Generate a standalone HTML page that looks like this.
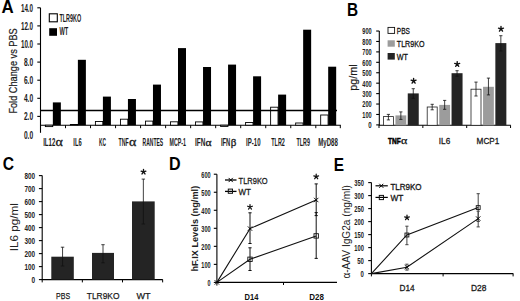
<!DOCTYPE html>
<html><head><meta charset="utf-8"><style>
html,body{margin:0;padding:0;background:#fff;}
svg{display:block;font-family:"Liberation Sans", sans-serif;}
</style></head><body>
<svg width="520" height="301" viewBox="0 0 520 301" font-family='"Liberation Sans", sans-serif'>
<rect x="0" y="0" width="520" height="301" fill="#fff"/>
<text x="1.60" y="12.60" font-size="17.5" font-weight="bold" fill="#000" textLength="12.20" lengthAdjust="spacingAndGlyphs">A</text>
<line x1="40.50" y1="7.80" x2="40.50" y2="132.80" stroke="#000" stroke-width="1.1"/>
<line x1="37.30" y1="7.80" x2="40.50" y2="7.80" stroke="#000" stroke-width="1.1"/>
<line x1="37.30" y1="25.90" x2="40.50" y2="25.90" stroke="#000" stroke-width="1.1"/>
<line x1="37.30" y1="44.00" x2="40.50" y2="44.00" stroke="#000" stroke-width="1.1"/>
<line x1="37.30" y1="62.10" x2="40.50" y2="62.10" stroke="#000" stroke-width="1.1"/>
<line x1="37.30" y1="80.20" x2="40.50" y2="80.20" stroke="#000" stroke-width="1.1"/>
<line x1="37.30" y1="98.30" x2="40.50" y2="98.30" stroke="#000" stroke-width="1.1"/>
<line x1="37.30" y1="116.40" x2="40.50" y2="116.40" stroke="#000" stroke-width="1.1"/>
<text x="20.90" y="11.70" font-size="11" font-weight="bold" fill="#1a1a1a" textLength="12.20" lengthAdjust="spacingAndGlyphs">14.0</text>
<text x="20.90" y="29.80" font-size="11" font-weight="bold" fill="#1a1a1a" textLength="12.20" lengthAdjust="spacingAndGlyphs">12.0</text>
<text x="20.90" y="47.90" font-size="11" font-weight="bold" fill="#1a1a1a" textLength="12.20" lengthAdjust="spacingAndGlyphs">10.0</text>
<text x="23.90" y="66.00" font-size="11" font-weight="bold" fill="#1a1a1a" textLength="9.20" lengthAdjust="spacingAndGlyphs">8.0</text>
<text x="23.90" y="84.10" font-size="11" font-weight="bold" fill="#1a1a1a" textLength="9.20" lengthAdjust="spacingAndGlyphs">6.0</text>
<text x="23.90" y="102.20" font-size="11" font-weight="bold" fill="#1a1a1a" textLength="9.20" lengthAdjust="spacingAndGlyphs">4.0</text>
<text x="23.90" y="120.30" font-size="11" font-weight="bold" fill="#1a1a1a" textLength="9.20" lengthAdjust="spacingAndGlyphs">2.0</text>
<text x="23.90" y="138.80" font-size="11" font-weight="bold" fill="#1a1a1a" textLength="9.20" lengthAdjust="spacingAndGlyphs">0.0</text>
<line x1="40.00" y1="125.20" x2="340.80" y2="125.20" stroke="#000" stroke-width="1.1"/>
<line x1="340.30" y1="125.20" x2="340.30" y2="128.20" stroke="#000" stroke-width="1"/>
<line x1="65.50" y1="125.20" x2="65.50" y2="128.20" stroke="#000" stroke-width="1"/>
<line x1="90.53" y1="125.20" x2="90.53" y2="128.20" stroke="#000" stroke-width="1"/>
<line x1="115.56" y1="125.20" x2="115.56" y2="128.20" stroke="#000" stroke-width="1"/>
<line x1="140.59" y1="125.20" x2="140.59" y2="128.20" stroke="#000" stroke-width="1"/>
<line x1="165.62" y1="125.20" x2="165.62" y2="128.20" stroke="#000" stroke-width="1"/>
<line x1="190.65" y1="125.20" x2="190.65" y2="128.20" stroke="#000" stroke-width="1"/>
<line x1="215.68" y1="125.20" x2="215.68" y2="128.20" stroke="#000" stroke-width="1"/>
<line x1="240.71" y1="125.20" x2="240.71" y2="128.20" stroke="#000" stroke-width="1"/>
<line x1="265.74" y1="125.20" x2="265.74" y2="128.20" stroke="#000" stroke-width="1"/>
<line x1="290.77" y1="125.20" x2="290.77" y2="128.20" stroke="#000" stroke-width="1"/>
<line x1="315.80" y1="125.20" x2="315.80" y2="128.20" stroke="#000" stroke-width="1"/>
<rect x="45.35" y="125.20" width="7.40" height="1.40" fill="#fff" stroke="#000" stroke-width="0.9"/>
<rect x="52.85" y="102.40" width="8.00" height="22.80" fill="#000"/>
<rect x="70.38" y="124.50" width="7.40" height="0.70" fill="#fff" stroke="#000" stroke-width="0.9"/>
<rect x="77.88" y="59.80" width="8.00" height="65.40" fill="#000"/>
<rect x="95.41" y="121.50" width="7.40" height="3.70" fill="#fff" stroke="#000" stroke-width="0.9"/>
<rect x="102.91" y="96.60" width="8.00" height="28.60" fill="#000"/>
<rect x="120.44" y="119.20" width="7.40" height="6.00" fill="#fff" stroke="#000" stroke-width="0.9"/>
<rect x="127.94" y="99.00" width="8.00" height="26.20" fill="#000"/>
<rect x="145.47" y="121.10" width="7.40" height="4.10" fill="#fff" stroke="#000" stroke-width="0.9"/>
<rect x="152.97" y="84.60" width="8.00" height="40.60" fill="#000"/>
<rect x="170.50" y="121.80" width="7.40" height="3.40" fill="#fff" stroke="#000" stroke-width="0.9"/>
<rect x="178.00" y="48.10" width="8.00" height="77.10" fill="#000"/>
<rect x="195.53" y="121.90" width="7.40" height="3.30" fill="#fff" stroke="#000" stroke-width="0.9"/>
<rect x="203.03" y="67.00" width="8.00" height="58.20" fill="#000"/>
<rect x="220.56" y="125.20" width="7.40" height="1.20" fill="#fff" stroke="#000" stroke-width="0.9"/>
<rect x="228.06" y="64.60" width="8.00" height="60.60" fill="#000"/>
<rect x="245.59" y="122.50" width="7.40" height="2.70" fill="#fff" stroke="#000" stroke-width="0.9"/>
<rect x="253.09" y="76.30" width="8.00" height="48.90" fill="#000"/>
<rect x="270.62" y="107.20" width="7.40" height="18.00" fill="#fff" stroke="#000" stroke-width="0.9"/>
<rect x="278.12" y="94.60" width="8.00" height="30.60" fill="#000"/>
<rect x="295.65" y="123.00" width="7.40" height="2.20" fill="#fff" stroke="#000" stroke-width="0.9"/>
<rect x="303.15" y="29.70" width="8.00" height="95.50" fill="#000"/>
<rect x="320.68" y="115.00" width="7.40" height="10.20" fill="#fff" stroke="#000" stroke-width="0.9"/>
<rect x="328.18" y="66.70" width="8.00" height="58.50" fill="#000"/>
<line x1="40.50" y1="110.45" x2="337.00" y2="110.45" stroke="#000" stroke-width="1.5"/>
<text x="43.20" y="145.60" font-size="11" font-weight="bold" fill="#1a1a1a" textLength="12.10" lengthAdjust="spacingAndGlyphs">IL12</text>
<text x="73.30" y="145.60" font-size="11" font-weight="bold" fill="#1a1a1a" textLength="8.40" lengthAdjust="spacingAndGlyphs">IL6</text>
<text x="99.00" y="145.60" font-size="11" font-weight="bold" fill="#1a1a1a" textLength="7.00" lengthAdjust="spacingAndGlyphs">KC</text>
<text x="118.50" y="145.60" font-size="11" font-weight="bold" fill="#1a1a1a" textLength="10.10" lengthAdjust="spacingAndGlyphs">TNF</text>
<text x="142.60" y="145.60" font-size="11" font-weight="bold" fill="#1a1a1a" textLength="20.60" lengthAdjust="spacingAndGlyphs">RANTES</text>
<text x="169.50" y="145.60" font-size="11" font-weight="bold" fill="#1a1a1a" textLength="16.40" lengthAdjust="spacingAndGlyphs">MCP-1</text>
<text x="195.00" y="145.60" font-size="11" font-weight="bold" fill="#1a1a1a" textLength="10.30" lengthAdjust="spacingAndGlyphs">IFN</text>
<text x="220.90" y="145.60" font-size="11" font-weight="bold" fill="#1a1a1a" textLength="9.40" lengthAdjust="spacingAndGlyphs">IFN</text>
<text x="246.10" y="145.60" font-size="11" font-weight="bold" fill="#1a1a1a" textLength="14.40" lengthAdjust="spacingAndGlyphs">IP-10</text>
<text x="271.30" y="145.60" font-size="11" font-weight="bold" fill="#1a1a1a" textLength="13.60" lengthAdjust="spacingAndGlyphs">TLR2</text>
<text x="296.50" y="145.60" font-size="11" font-weight="bold" fill="#1a1a1a" textLength="13.40" lengthAdjust="spacingAndGlyphs">TLR9</text>
<text x="318.20" y="145.60" font-size="11" font-weight="bold" fill="#1a1a1a" textLength="19.60" lengthAdjust="spacingAndGlyphs">MyD88</text>
<text x="55.50" y="146.00" font-family="Liberation Serif, serif" font-size="11.5" fill="#1a1a1a" stroke="#1a1a1a" stroke-width="0.3" textLength="7.30" lengthAdjust="spacingAndGlyphs">&#945;</text>
<text x="128.90" y="146.00" font-family="Liberation Serif, serif" font-size="11.5" fill="#1a1a1a" stroke="#1a1a1a" stroke-width="0.3" textLength="7.30" lengthAdjust="spacingAndGlyphs">&#945;</text>
<text x="205.60" y="145.90" font-family="Liberation Serif, serif" font-size="9.5" fill="#1a1a1a" stroke="#1a1a1a" stroke-width="0.3" textLength="6.00" lengthAdjust="spacingAndGlyphs">&#945;</text>
<text x="230.70" y="145.80" font-family="Liberation Serif, serif" font-size="10.5" fill="#1a1a1a" stroke="#1a1a1a" stroke-width="0.3" textLength="5.60" lengthAdjust="spacingAndGlyphs">&#946;</text>
<text transform="translate(17.10,113.60) rotate(-90)" x="0" y="0" font-size="10.3" font-weight="normal" fill="#1a1a1a" textLength="85.30" lengthAdjust="spacingAndGlyphs" stroke="#1a1a1a" stroke-width="0.2">Fold Change vs PBS</text>
<rect x="49.30" y="13.80" width="8.00" height="8.00" fill="#fff" stroke="#000" stroke-width="1.1"/>
<text x="59.40" y="21.80" font-size="10" font-weight="bold" fill="#1a1a1a" textLength="21.80" lengthAdjust="spacingAndGlyphs">TLR9KO</text>
<rect x="49.20" y="28.20" width="7.80" height="7.60" fill="#000"/>
<text x="59.40" y="35.40" font-size="10" font-weight="bold" fill="#1a1a1a" textLength="8.80" lengthAdjust="spacingAndGlyphs">WT</text>
<text x="346.90" y="15.90" font-size="17.5" font-weight="bold" fill="#000" textLength="11.10" lengthAdjust="spacingAndGlyphs">B</text>
<line x1="379.30" y1="31.03" x2="379.30" y2="125.40" stroke="#000" stroke-width="1.1"/>
<line x1="376.20" y1="124.90" x2="379.30" y2="124.90" stroke="#000" stroke-width="1.1"/>
<text x="368.30" y="128.30" font-size="9.5" font-weight="bold" fill="#222" textLength="3.40" lengthAdjust="spacingAndGlyphs">0</text>
<line x1="376.20" y1="114.47" x2="379.30" y2="114.47" stroke="#000" stroke-width="1.1"/>
<text x="362.30" y="117.87" font-size="9.5" font-weight="bold" fill="#222" textLength="9.40" lengthAdjust="spacingAndGlyphs">100</text>
<line x1="376.20" y1="104.04" x2="379.30" y2="104.04" stroke="#000" stroke-width="1.1"/>
<text x="362.30" y="107.44" font-size="9.5" font-weight="bold" fill="#222" textLength="9.40" lengthAdjust="spacingAndGlyphs">200</text>
<line x1="376.20" y1="93.61" x2="379.30" y2="93.61" stroke="#000" stroke-width="1.1"/>
<text x="362.30" y="97.01" font-size="9.5" font-weight="bold" fill="#222" textLength="9.40" lengthAdjust="spacingAndGlyphs">300</text>
<line x1="376.20" y1="83.18" x2="379.30" y2="83.18" stroke="#000" stroke-width="1.1"/>
<text x="362.30" y="86.58" font-size="9.5" font-weight="bold" fill="#222" textLength="9.40" lengthAdjust="spacingAndGlyphs">400</text>
<line x1="376.20" y1="72.75" x2="379.30" y2="72.75" stroke="#000" stroke-width="1.1"/>
<text x="362.30" y="76.15" font-size="9.5" font-weight="bold" fill="#222" textLength="9.40" lengthAdjust="spacingAndGlyphs">500</text>
<line x1="376.20" y1="62.32" x2="379.30" y2="62.32" stroke="#000" stroke-width="1.1"/>
<text x="362.30" y="65.72" font-size="9.5" font-weight="bold" fill="#222" textLength="9.40" lengthAdjust="spacingAndGlyphs">600</text>
<line x1="376.20" y1="51.89" x2="379.30" y2="51.89" stroke="#000" stroke-width="1.1"/>
<text x="362.30" y="55.29" font-size="9.5" font-weight="bold" fill="#222" textLength="9.40" lengthAdjust="spacingAndGlyphs">700</text>
<line x1="376.20" y1="41.46" x2="379.30" y2="41.46" stroke="#000" stroke-width="1.1"/>
<text x="362.30" y="44.86" font-size="9.5" font-weight="bold" fill="#222" textLength="9.40" lengthAdjust="spacingAndGlyphs">800</text>
<line x1="376.20" y1="31.03" x2="379.30" y2="31.03" stroke="#000" stroke-width="1.1"/>
<text x="362.30" y="34.43" font-size="9.5" font-weight="bold" fill="#222" textLength="9.40" lengthAdjust="spacingAndGlyphs">900</text>
<line x1="378.80" y1="125.30" x2="510.80" y2="125.30" stroke="#000" stroke-width="1.1"/>
<line x1="379.00" y1="125.30" x2="379.00" y2="128.00" stroke="#000" stroke-width="1"/>
<line x1="422.85" y1="125.30" x2="422.85" y2="128.00" stroke="#000" stroke-width="1"/>
<line x1="466.70" y1="125.30" x2="466.70" y2="128.00" stroke="#000" stroke-width="1"/>
<line x1="510.55" y1="125.30" x2="510.55" y2="128.00" stroke="#000" stroke-width="1"/>
<rect x="383.40" y="116.60" width="10.00" height="8.70" fill="#fff" stroke="#222" stroke-width="0.8"/>
<line x1="388.40" y1="114.40" x2="388.40" y2="119.90" stroke="#111" stroke-width="0.8"/>
<line x1="386.80" y1="114.40" x2="390.00" y2="114.40" stroke="#111" stroke-width="0.8"/>
<line x1="386.80" y1="119.90" x2="390.00" y2="119.90" stroke="#111" stroke-width="0.8"/>
<rect x="395.45" y="115.40" width="10.80" height="9.90" fill="#9c9c9c"/>
<line x1="400.85" y1="111.90" x2="400.85" y2="119.40" stroke="#111" stroke-width="0.8"/>
<line x1="399.25" y1="111.90" x2="402.45" y2="111.90" stroke="#111" stroke-width="0.8"/>
<line x1="399.25" y1="119.40" x2="402.45" y2="119.40" stroke="#111" stroke-width="0.8"/>
<rect x="407.75" y="93.40" width="11.00" height="31.90" fill="#242424"/>
<line x1="413.25" y1="88.70" x2="413.25" y2="98.30" stroke="#111" stroke-width="0.8"/>
<line x1="411.65" y1="88.70" x2="414.85" y2="88.70" stroke="#111" stroke-width="0.8"/>
<line x1="411.65" y1="98.30" x2="414.85" y2="98.30" stroke="#111" stroke-width="0.8"/>
<rect x="427.20" y="107.00" width="10.00" height="18.30" fill="#fff" stroke="#222" stroke-width="0.8"/>
<line x1="432.20" y1="104.30" x2="432.20" y2="109.80" stroke="#111" stroke-width="0.8"/>
<line x1="430.60" y1="104.30" x2="433.80" y2="104.30" stroke="#111" stroke-width="0.8"/>
<line x1="430.60" y1="109.80" x2="433.80" y2="109.80" stroke="#111" stroke-width="0.8"/>
<rect x="439.25" y="104.90" width="10.80" height="20.40" fill="#9c9c9c"/>
<line x1="444.65" y1="100.40" x2="444.65" y2="109.30" stroke="#111" stroke-width="0.8"/>
<line x1="443.05" y1="100.40" x2="446.25" y2="100.40" stroke="#111" stroke-width="0.8"/>
<line x1="443.05" y1="109.30" x2="446.25" y2="109.30" stroke="#111" stroke-width="0.8"/>
<rect x="451.55" y="73.20" width="11.00" height="52.10" fill="#242424"/>
<line x1="457.05" y1="70.70" x2="457.05" y2="76.20" stroke="#111" stroke-width="0.8"/>
<line x1="455.45" y1="70.70" x2="458.65" y2="70.70" stroke="#111" stroke-width="0.8"/>
<line x1="455.45" y1="76.20" x2="458.65" y2="76.20" stroke="#111" stroke-width="0.8"/>
<rect x="471.00" y="89.20" width="10.00" height="36.10" fill="#fff" stroke="#222" stroke-width="0.8"/>
<line x1="476.00" y1="82.10" x2="476.00" y2="96.00" stroke="#111" stroke-width="0.8"/>
<line x1="474.40" y1="82.10" x2="477.60" y2="82.10" stroke="#111" stroke-width="0.8"/>
<line x1="474.40" y1="96.00" x2="477.60" y2="96.00" stroke="#111" stroke-width="0.8"/>
<rect x="483.05" y="86.80" width="10.80" height="38.50" fill="#9c9c9c"/>
<line x1="488.45" y1="78.10" x2="488.45" y2="94.90" stroke="#111" stroke-width="0.8"/>
<line x1="486.85" y1="78.10" x2="490.05" y2="78.10" stroke="#111" stroke-width="0.8"/>
<line x1="486.85" y1="94.90" x2="490.05" y2="94.90" stroke="#111" stroke-width="0.8"/>
<rect x="495.35" y="43.10" width="11.00" height="82.20" fill="#242424"/>
<line x1="500.85" y1="35.70" x2="500.85" y2="51.00" stroke="#111" stroke-width="0.8"/>
<line x1="499.25" y1="35.70" x2="502.45" y2="35.70" stroke="#111" stroke-width="0.8"/>
<line x1="499.25" y1="51.00" x2="502.45" y2="51.00" stroke="#111" stroke-width="0.8"/>
<path d="M413.60,81.00L413.60,78.40M413.60,81.00L416.07,80.20M413.60,81.00L415.13,83.10M413.60,81.00L412.07,83.10M413.60,81.00L411.13,80.20" stroke="#111" stroke-width="1.4" stroke-linecap="round" fill="none"/>
<path d="M457.20,64.20L457.20,61.60M457.20,64.20L459.67,63.40M457.20,64.20L458.73,66.30M457.20,64.20L455.67,66.30M457.20,64.20L454.73,63.40" stroke="#111" stroke-width="1.4" stroke-linecap="round" fill="none"/>
<path d="M501.00,29.00L501.00,26.40M501.00,29.00L503.47,28.20M501.00,29.00L502.53,31.10M501.00,29.00L499.47,31.10M501.00,29.00L498.53,28.20" stroke="#111" stroke-width="1.4" stroke-linecap="round" fill="none"/>
<rect x="388.00" y="27.40" width="6.60" height="6.00" fill="#fff" stroke="#111" stroke-width="0.9"/>
<rect x="387.60" y="40.30" width="7.20" height="6.40" fill="#9c9c9c"/>
<rect x="387.60" y="53.00" width="7.20" height="6.60" fill="#242424"/>
<text x="396.80" y="33.70" font-size="9.3" font-weight="normal" fill="#111" textLength="13.00" lengthAdjust="spacingAndGlyphs" stroke="#111" stroke-width="0.3">PBS</text>
<text x="396.80" y="46.90" font-size="9.3" font-weight="normal" fill="#111" textLength="27.60" lengthAdjust="spacingAndGlyphs" stroke="#111" stroke-width="0.3">TLR9KO</text>
<text x="396.80" y="59.80" font-size="9.3" font-weight="normal" fill="#111" textLength="11.20" lengthAdjust="spacingAndGlyphs" stroke="#111" stroke-width="0.3">WT</text>
<text transform="translate(357.40,90.80) rotate(-90)" x="0" y="0" font-size="11.5" font-weight="normal" fill="#1a1a1a" textLength="26.40" lengthAdjust="spacingAndGlyphs" stroke="#1a1a1a" stroke-width="0.2">pg/ml</text>
<text x="388.10" y="144.20" font-size="9.6" font-weight="bold" fill="#000" textLength="12.70" lengthAdjust="spacingAndGlyphs" stroke="#000" stroke-width="0.55">TNF</text>
<text x="401.0" y="144.4" font-family="Liberation Serif, serif" font-size="10" fill="#111" stroke="#111" stroke-width="0.25" textLength="6.3" lengthAdjust="spacingAndGlyphs">&#945;</text>
<text x="438.80" y="143.60" font-size="9.6" font-weight="normal" fill="#1a1a1a" textLength="11.40" lengthAdjust="spacingAndGlyphs" stroke="#1a1a1a" stroke-width="0.3">IL6</text>
<text x="476.60" y="143.60" font-size="9.6" font-weight="normal" fill="#1a1a1a" textLength="22.70" lengthAdjust="spacingAndGlyphs" stroke="#1a1a1a" stroke-width="0.3">MCP1</text>
<text x="2.70" y="169.80" font-size="18" font-weight="bold" fill="#000" textLength="11.30" lengthAdjust="spacingAndGlyphs">C</text>
<line x1="42.20" y1="175.60" x2="42.20" y2="279.60" stroke="#000" stroke-width="1.1"/>
<line x1="38.90" y1="279.60" x2="42.20" y2="279.60" stroke="#000" stroke-width="1.1"/>
<text x="31.50" y="283.20" font-size="9.8" font-weight="bold" fill="#222" textLength="3.60" lengthAdjust="spacingAndGlyphs">0</text>
<line x1="38.90" y1="266.60" x2="42.20" y2="266.60" stroke="#000" stroke-width="1.1"/>
<text x="24.50" y="270.20" font-size="9.8" font-weight="bold" fill="#222" textLength="10.60" lengthAdjust="spacingAndGlyphs">100</text>
<line x1="38.90" y1="253.60" x2="42.20" y2="253.60" stroke="#000" stroke-width="1.1"/>
<text x="24.50" y="257.20" font-size="9.8" font-weight="bold" fill="#222" textLength="10.60" lengthAdjust="spacingAndGlyphs">200</text>
<line x1="38.90" y1="240.60" x2="42.20" y2="240.60" stroke="#000" stroke-width="1.1"/>
<text x="24.50" y="244.20" font-size="9.8" font-weight="bold" fill="#222" textLength="10.60" lengthAdjust="spacingAndGlyphs">300</text>
<line x1="38.90" y1="227.60" x2="42.20" y2="227.60" stroke="#000" stroke-width="1.1"/>
<text x="24.50" y="231.20" font-size="9.8" font-weight="bold" fill="#222" textLength="10.60" lengthAdjust="spacingAndGlyphs">400</text>
<line x1="38.90" y1="214.60" x2="42.20" y2="214.60" stroke="#000" stroke-width="1.1"/>
<text x="24.50" y="218.20" font-size="9.8" font-weight="bold" fill="#222" textLength="10.60" lengthAdjust="spacingAndGlyphs">500</text>
<line x1="38.90" y1="201.60" x2="42.20" y2="201.60" stroke="#000" stroke-width="1.1"/>
<text x="24.50" y="205.20" font-size="9.8" font-weight="bold" fill="#222" textLength="10.60" lengthAdjust="spacingAndGlyphs">600</text>
<line x1="38.90" y1="188.60" x2="42.20" y2="188.60" stroke="#000" stroke-width="1.1"/>
<text x="24.50" y="192.20" font-size="9.8" font-weight="bold" fill="#222" textLength="10.60" lengthAdjust="spacingAndGlyphs">700</text>
<line x1="38.90" y1="175.60" x2="42.20" y2="175.60" stroke="#000" stroke-width="1.1"/>
<text x="24.50" y="179.20" font-size="9.8" font-weight="bold" fill="#222" textLength="10.60" lengthAdjust="spacingAndGlyphs">800</text>
<line x1="41.70" y1="279.60" x2="162.80" y2="279.60" stroke="#000" stroke-width="1.1"/>
<line x1="42.20" y1="279.60" x2="42.20" y2="282.40" stroke="#000" stroke-width="1"/>
<line x1="82.35" y1="279.60" x2="82.35" y2="282.40" stroke="#000" stroke-width="1"/>
<line x1="122.50" y1="279.60" x2="122.50" y2="282.40" stroke="#000" stroke-width="1"/>
<line x1="162.65" y1="279.60" x2="162.65" y2="282.40" stroke="#000" stroke-width="1"/>
<rect x="51.30" y="256.70" width="22.50" height="22.90" fill="#242424"/>
<line x1="62.55" y1="247.20" x2="62.55" y2="266.00" stroke="#111" stroke-width="0.8"/>
<line x1="60.85" y1="247.20" x2="64.25" y2="247.20" stroke="#111" stroke-width="0.8"/>
<line x1="60.85" y1="266.00" x2="64.25" y2="266.00" stroke="#111" stroke-width="0.8"/>
<rect x="92.00" y="252.90" width="22.00" height="26.70" fill="#242424"/>
<line x1="103.00" y1="244.70" x2="103.00" y2="262.80" stroke="#111" stroke-width="0.8"/>
<line x1="101.30" y1="244.70" x2="104.70" y2="244.70" stroke="#111" stroke-width="0.8"/>
<line x1="101.30" y1="262.80" x2="104.70" y2="262.80" stroke="#111" stroke-width="0.8"/>
<rect x="132.00" y="201.40" width="22.70" height="78.20" fill="#242424"/>
<line x1="143.35" y1="179.10" x2="143.35" y2="224.00" stroke="#111" stroke-width="0.8"/>
<line x1="141.65" y1="179.10" x2="145.05" y2="179.10" stroke="#111" stroke-width="0.8"/>
<line x1="141.65" y1="224.00" x2="145.05" y2="224.00" stroke="#111" stroke-width="0.8"/>
<path d="M143.50,171.90L143.50,169.40M143.50,171.90L145.88,171.13M143.50,171.90L144.97,173.92M143.50,171.90L142.03,173.92M143.50,171.90L141.12,171.13" stroke="#111" stroke-width="1.35" stroke-linecap="round" fill="none"/>
<text transform="translate(17.60,251.20) rotate(-90)" x="0" y="0" font-size="11.2" font-weight="normal" fill="#222" textLength="48.00" lengthAdjust="spacingAndGlyphs">IL6 pg/ml</text>
<text x="56.00" y="298.80" font-size="9.8" font-weight="normal" fill="#1a1a1a" textLength="14.10" lengthAdjust="spacingAndGlyphs" stroke="#1a1a1a" stroke-width="0.25">PBS</text>
<text x="86.80" y="298.80" font-size="9.8" font-weight="normal" fill="#1a1a1a" textLength="32.70" lengthAdjust="spacingAndGlyphs" stroke="#1a1a1a" stroke-width="0.25">TLR9KO</text>
<text x="136.40" y="298.80" font-size="9.8" font-weight="normal" fill="#1a1a1a" textLength="14.10" lengthAdjust="spacingAndGlyphs" stroke="#1a1a1a" stroke-width="0.25">WT</text>
<text x="169.00" y="169.60" font-size="18" font-weight="bold" fill="#000" textLength="11.60" lengthAdjust="spacingAndGlyphs">D</text>
<line x1="216.90" y1="174.22" x2="216.90" y2="282.40" stroke="#000" stroke-width="1.1"/>
<line x1="213.80" y1="282.40" x2="216.90" y2="282.40" stroke="#000" stroke-width="1.1"/>
<text x="207.60" y="285.90" font-size="9.8" font-weight="bold" fill="#222" textLength="3.00" lengthAdjust="spacingAndGlyphs">0</text>
<line x1="213.80" y1="264.37" x2="216.90" y2="264.37" stroke="#000" stroke-width="1.1"/>
<text x="201.30" y="267.87" font-size="9.8" font-weight="bold" fill="#222" textLength="9.30" lengthAdjust="spacingAndGlyphs">100</text>
<line x1="213.80" y1="246.34" x2="216.90" y2="246.34" stroke="#000" stroke-width="1.1"/>
<text x="201.30" y="249.84" font-size="9.8" font-weight="bold" fill="#222" textLength="9.30" lengthAdjust="spacingAndGlyphs">200</text>
<line x1="213.80" y1="228.31" x2="216.90" y2="228.31" stroke="#000" stroke-width="1.1"/>
<text x="201.30" y="231.81" font-size="9.8" font-weight="bold" fill="#222" textLength="9.30" lengthAdjust="spacingAndGlyphs">300</text>
<line x1="213.80" y1="210.28" x2="216.90" y2="210.28" stroke="#000" stroke-width="1.1"/>
<text x="201.30" y="213.78" font-size="9.8" font-weight="bold" fill="#222" textLength="9.30" lengthAdjust="spacingAndGlyphs">400</text>
<line x1="213.80" y1="192.25" x2="216.90" y2="192.25" stroke="#000" stroke-width="1.1"/>
<text x="201.30" y="195.75" font-size="9.8" font-weight="bold" fill="#222" textLength="9.30" lengthAdjust="spacingAndGlyphs">500</text>
<line x1="213.80" y1="174.22" x2="216.90" y2="174.22" stroke="#000" stroke-width="1.1"/>
<text x="201.30" y="177.72" font-size="9.8" font-weight="bold" fill="#222" textLength="9.30" lengthAdjust="spacingAndGlyphs">600</text>
<line x1="216.90" y1="282.40" x2="337.00" y2="282.40" stroke="#000" stroke-width="1.1"/>
<line x1="283.50" y1="282.40" x2="283.50" y2="285.00" stroke="#000" stroke-width="1"/>
<line x1="216.90" y1="282.40" x2="216.90" y2="285.60" stroke="#000" stroke-width="1"/>
<line x1="250.00" y1="212.80" x2="250.00" y2="243.50" stroke="#111" stroke-width="1.0"/>
<line x1="248.40" y1="212.80" x2="251.60" y2="212.80" stroke="#111" stroke-width="1.0"/>
<line x1="248.40" y1="243.50" x2="251.60" y2="243.50" stroke="#111" stroke-width="1.0"/>
<line x1="316.20" y1="183.90" x2="316.20" y2="215.60" stroke="#111" stroke-width="1.0"/>
<line x1="314.60" y1="183.90" x2="317.80" y2="183.90" stroke="#111" stroke-width="1.0"/>
<line x1="314.60" y1="215.60" x2="317.80" y2="215.60" stroke="#111" stroke-width="1.0"/>
<line x1="250.00" y1="247.80" x2="250.00" y2="270.50" stroke="#111" stroke-width="1.0"/>
<line x1="248.40" y1="247.80" x2="251.60" y2="247.80" stroke="#111" stroke-width="1.0"/>
<line x1="248.40" y1="270.50" x2="251.60" y2="270.50" stroke="#111" stroke-width="1.0"/>
<line x1="316.20" y1="212.60" x2="316.20" y2="258.40" stroke="#111" stroke-width="1.0"/>
<line x1="314.60" y1="212.60" x2="317.80" y2="212.60" stroke="#111" stroke-width="1.0"/>
<line x1="314.60" y1="258.40" x2="317.80" y2="258.40" stroke="#111" stroke-width="1.0"/>
<polyline points="216.9,282.4 250,228.6 316.2,200.0" fill="none" stroke="#111" stroke-width="1.1"/>
<polyline points="216.9,282.4 250,259.3 316.2,235.9" fill="none" stroke="#111" stroke-width="1.1"/>
<line x1="214.70" y1="280.20" x2="219.10" y2="284.60" stroke="#000" stroke-width="0.9"/>
<line x1="214.70" y1="284.60" x2="219.10" y2="280.20" stroke="#000" stroke-width="0.9"/>
<line x1="247.80" y1="226.40" x2="252.20" y2="230.80" stroke="#000" stroke-width="0.9"/>
<line x1="247.80" y1="230.80" x2="252.20" y2="226.40" stroke="#000" stroke-width="0.9"/>
<line x1="314.00" y1="197.80" x2="318.40" y2="202.20" stroke="#000" stroke-width="0.9"/>
<line x1="314.00" y1="202.20" x2="318.40" y2="197.80" stroke="#000" stroke-width="0.9"/>
<rect x="247.80" y="257.10" width="4.40" height="4.40" fill="none" stroke="#111" stroke-width="0.9"/>
<rect x="314.00" y="233.70" width="4.40" height="4.40" fill="none" stroke="#111" stroke-width="0.9"/>
<path d="M250.00,207.00L250.00,204.50M250.00,207.00L252.38,206.23M250.00,207.00L251.47,209.02M250.00,207.00L248.53,209.02M250.00,207.00L247.62,206.23" stroke="#111" stroke-width="1.25" stroke-linecap="round" fill="none"/>
<path d="M316.20,176.70L316.20,174.20M316.20,176.70L318.58,175.93M316.20,176.70L317.67,178.72M316.20,176.70L314.73,178.72M316.20,176.70L313.82,175.93" stroke="#111" stroke-width="1.25" stroke-linecap="round" fill="none"/>
<line x1="225.00" y1="180.00" x2="236.50" y2="180.00" stroke="#000" stroke-width="1.3"/>
<line x1="228.60" y1="177.90" x2="232.80" y2="182.10" stroke="#000" stroke-width="1.0"/>
<line x1="228.60" y1="182.10" x2="232.80" y2="177.90" stroke="#000" stroke-width="1.0"/>
<text x="238.60" y="183.50" font-size="9.3" font-weight="normal" fill="#1a1a1a" textLength="29.10" lengthAdjust="spacingAndGlyphs" stroke="#1a1a1a" stroke-width="0.3">TLR9KO</text>
<line x1="225.00" y1="191.40" x2="236.50" y2="191.40" stroke="#000" stroke-width="1.3"/>
<rect x="228.30" y="189.10" width="4.20" height="4.20" fill="none" stroke="#111" stroke-width="1.0"/>
<text x="238.60" y="195.20" font-size="9.3" font-weight="normal" fill="#1a1a1a" textLength="12.40" lengthAdjust="spacingAndGlyphs" stroke="#1a1a1a" stroke-width="0.3">WT</text>
<text transform="translate(198.00,271.60) rotate(-90)" x="0" y="0" font-size="9.8" font-weight="bold" fill="#222" textLength="85.80" lengthAdjust="spacingAndGlyphs">hF.IX Levels (ng/ml)</text>
<text x="244.60" y="299.80" font-size="9.9" font-weight="bold" fill="#111" textLength="13.80" lengthAdjust="spacingAndGlyphs">D14</text>
<text x="309.20" y="299.80" font-size="9.9" font-weight="bold" fill="#111" textLength="14.70" lengthAdjust="spacingAndGlyphs">D28</text>
<text x="333.70" y="170.50" font-size="18" font-weight="bold" fill="#000" textLength="10.30" lengthAdjust="spacingAndGlyphs">E</text>
<line x1="371.40" y1="182.60" x2="371.40" y2="273.60" stroke="#000" stroke-width="1.1"/>
<line x1="368.20" y1="273.60" x2="371.40" y2="273.60" stroke="#000" stroke-width="1.1"/>
<text x="360.60" y="277.10" font-size="9.9" font-weight="bold" fill="#222" textLength="3.30" lengthAdjust="spacingAndGlyphs">0</text>
<line x1="368.20" y1="260.60" x2="371.40" y2="260.60" stroke="#000" stroke-width="1.1"/>
<text x="357.30" y="264.10" font-size="9.9" font-weight="bold" fill="#222" textLength="6.60" lengthAdjust="spacingAndGlyphs">50</text>
<line x1="368.20" y1="247.60" x2="371.40" y2="247.60" stroke="#000" stroke-width="1.1"/>
<text x="354.30" y="251.10" font-size="9.9" font-weight="bold" fill="#222" textLength="9.60" lengthAdjust="spacingAndGlyphs">100</text>
<line x1="368.20" y1="234.60" x2="371.40" y2="234.60" stroke="#000" stroke-width="1.1"/>
<text x="354.30" y="238.10" font-size="9.9" font-weight="bold" fill="#222" textLength="9.60" lengthAdjust="spacingAndGlyphs">150</text>
<line x1="368.20" y1="221.60" x2="371.40" y2="221.60" stroke="#000" stroke-width="1.1"/>
<text x="354.30" y="225.10" font-size="9.9" font-weight="bold" fill="#222" textLength="9.60" lengthAdjust="spacingAndGlyphs">200</text>
<line x1="368.20" y1="208.60" x2="371.40" y2="208.60" stroke="#000" stroke-width="1.1"/>
<text x="354.30" y="212.10" font-size="9.9" font-weight="bold" fill="#222" textLength="9.60" lengthAdjust="spacingAndGlyphs">250</text>
<line x1="368.20" y1="195.60" x2="371.40" y2="195.60" stroke="#000" stroke-width="1.1"/>
<text x="354.30" y="199.10" font-size="9.9" font-weight="bold" fill="#222" textLength="9.60" lengthAdjust="spacingAndGlyphs">300</text>
<line x1="368.20" y1="182.60" x2="371.40" y2="182.60" stroke="#000" stroke-width="1.1"/>
<text x="354.30" y="186.10" font-size="9.9" font-weight="bold" fill="#222" textLength="9.60" lengthAdjust="spacingAndGlyphs">350</text>
<line x1="371.40" y1="273.60" x2="513.30" y2="273.60" stroke="#000" stroke-width="1.1"/>
<line x1="443.10" y1="273.60" x2="443.10" y2="276.40" stroke="#000" stroke-width="1"/>
<line x1="513.10" y1="273.60" x2="513.10" y2="276.40" stroke="#000" stroke-width="1"/>
<line x1="371.40" y1="273.60" x2="371.40" y2="276.40" stroke="#000" stroke-width="1"/>
<line x1="406.90" y1="226.20" x2="406.90" y2="244.70" stroke="#444" stroke-width="1.0"/>
<line x1="405.30" y1="226.20" x2="408.50" y2="226.20" stroke="#444" stroke-width="1.0"/>
<line x1="405.30" y1="244.70" x2="408.50" y2="244.70" stroke="#444" stroke-width="1.0"/>
<line x1="478.20" y1="193.70" x2="478.20" y2="221.50" stroke="#444" stroke-width="1.0"/>
<line x1="476.60" y1="193.70" x2="479.80" y2="193.70" stroke="#444" stroke-width="1.0"/>
<line x1="476.60" y1="221.50" x2="479.80" y2="221.50" stroke="#444" stroke-width="1.0"/>
<line x1="406.90" y1="264.20" x2="406.90" y2="270.10" stroke="#444" stroke-width="1.0"/>
<line x1="405.30" y1="264.20" x2="408.50" y2="264.20" stroke="#444" stroke-width="1.0"/>
<line x1="405.30" y1="270.10" x2="408.50" y2="270.10" stroke="#444" stroke-width="1.0"/>
<line x1="478.20" y1="211.20" x2="478.20" y2="226.90" stroke="#444" stroke-width="1.0"/>
<line x1="476.60" y1="211.20" x2="479.80" y2="211.20" stroke="#444" stroke-width="1.0"/>
<line x1="476.60" y1="226.90" x2="479.80" y2="226.90" stroke="#444" stroke-width="1.0"/>
<polyline points="371.4,273.6 406.9,267.2 478.2,218.6" fill="none" stroke="#111" stroke-width="1.1"/>
<polyline points="371.4,273.6 406.9,235.0 478.2,207.6" fill="none" stroke="#111" stroke-width="1.1"/>
<line x1="404.70" y1="265.00" x2="409.10" y2="269.40" stroke="#000" stroke-width="0.9"/>
<line x1="404.70" y1="269.40" x2="409.10" y2="265.00" stroke="#000" stroke-width="0.9"/>
<line x1="476.00" y1="216.40" x2="480.40" y2="220.80" stroke="#000" stroke-width="0.9"/>
<line x1="476.00" y1="220.80" x2="480.40" y2="216.40" stroke="#000" stroke-width="0.9"/>
<rect x="404.95" y="233.05" width="3.90" height="3.90" fill="none" stroke="#111" stroke-width="0.9"/>
<rect x="476.25" y="205.65" width="3.90" height="3.90" fill="none" stroke="#111" stroke-width="0.9"/>
<path d="M407.00,217.70L407.00,215.25M407.00,217.70L409.33,216.94M407.00,217.70L408.44,219.68M407.00,217.70L405.56,219.68M407.00,217.70L404.67,216.94" stroke="#111" stroke-width="1.3" stroke-linecap="round" fill="none"/>
<line x1="375.50" y1="185.80" x2="387.80" y2="185.80" stroke="#000" stroke-width="1.2"/>
<line x1="379.30" y1="183.80" x2="383.30" y2="187.80" stroke="#000" stroke-width="1.0"/>
<line x1="379.30" y1="187.80" x2="383.30" y2="183.80" stroke="#000" stroke-width="1.0"/>
<text x="390.40" y="189.50" font-size="9.3" font-weight="normal" fill="#1a1a1a" textLength="31.20" lengthAdjust="spacingAndGlyphs" stroke="#1a1a1a" stroke-width="0.35">TLR9KO</text>
<line x1="375.50" y1="197.40" x2="387.80" y2="197.40" stroke="#000" stroke-width="1.2"/>
<rect x="379.30" y="195.40" width="4.20" height="4.20" fill="none" stroke="#111" stroke-width="1.0"/>
<text x="390.40" y="200.90" font-size="9.3" font-weight="normal" fill="#1a1a1a" textLength="12.80" lengthAdjust="spacingAndGlyphs" stroke="#1a1a1a" stroke-width="0.35">WT</text>
<text transform="translate(349.90,278.60) rotate(-90)" x="0" y="0" font-size="10.3" font-weight="normal" fill="#1a1a1a" textLength="93.40" lengthAdjust="spacingAndGlyphs">&#945;-AAV IgG2a (ng/ml)</text>
<text x="399.60" y="291.30" font-size="9.2" font-weight="normal" fill="#1a1a1a" textLength="15.10" lengthAdjust="spacingAndGlyphs" stroke="#1a1a1a" stroke-width="0.3">D14</text>
<text x="471.00" y="291.30" font-size="9.2" font-weight="normal" fill="#1a1a1a" textLength="15.40" lengthAdjust="spacingAndGlyphs" stroke="#1a1a1a" stroke-width="0.3">D28</text>
</svg></body></html>
